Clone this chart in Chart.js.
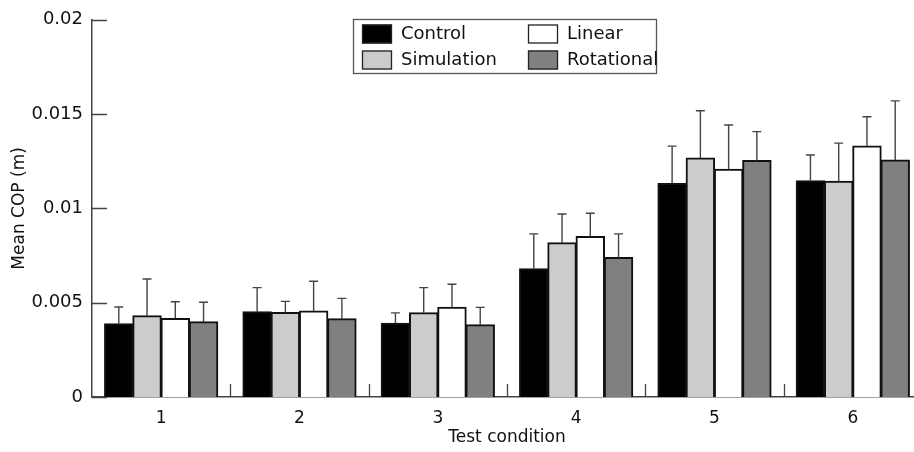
<!DOCTYPE html>
<html>
<head>
<meta charset="utf-8">
<script src="https://cdn.jsdelivr.net/npm/chart.js@4"></script>
<style>
  html, body { margin: 0; padding: 0; background: #fff; overflow: hidden; }
  #wrap { width: 930px; height: 452px; }
</style>
</head>
<body>
<div id="wrap"><canvas id="chart" width="930" height="452"></canvas></div>
<script>
const conditions = ["1", "2", "3", "4", "5", "6"];
const seriesNames = ["Control", "Simulation", "Linear", "Rotational"];
const control = [0.00388, 0.00451, 0.00391, 0.0068, 0.01132, 0.01146];
const simulation = [0.0043, 0.00447, 0.00446, 0.00817, 0.01267, 0.01144];
const linear = [0.00416, 0.00456, 0.00475, 0.00851, 0.01207, 0.0133];
const rotational = [0.00398, 0.00414, 0.00382, 0.00739, 0.01253, 0.01256];
const controlSd = [0.00089, 0.00129, 0.00055, 0.00185, 0.00198, 0.00137];
const simulationSd = [0.00196, 0.0006, 0.00134, 0.00153, 0.00251, 0.00202];
const linearSd = [0.00089, 0.00158, 0.00123, 0.00123, 0.00235, 0.00156];
const rotationalSd = [0.00104, 0.00109, 0.00093, 0.00126, 0.00154, 0.00314];
const yTicks = [0, 0.005, 0.01, 0.015, 0.02];
const yTickLabels = ["0", "0.005", "0.01", "0.015", "0.02"];

const fills = ["#000000", "#cccccc", "#ffffff", "#808080"];
const FONT = "'DejaVu Sans', sans-serif";

// SD bars, upper half only, like the figure
const errorBars = {
  id: "errorBars",
  afterDatasetsDraw(chart) {
    const ctx = chart.ctx;
    const y = chart.scales.y;
    ctx.save();
    ctx.strokeStyle = "#444";
    ctx.lineWidth = 1.4;
    chart.data.datasets.forEach((ds, i) => {
      chart.getDatasetMeta(i).data.forEach((bar, j) => {
        const top = y.getPixelForValue(ds.data[j] + ds.sd[j]);
        ctx.beginPath();
        ctx.moveTo(bar.x, bar.y);
        ctx.lineTo(bar.x, top);
        ctx.moveTo(bar.x - 4.5, top);
        ctx.lineTo(bar.x + 4.5, top);
        ctx.stroke();
      });
    });
    ctx.restore();
  }
};

// tick marks point into the plot
const innerTicks = {
  id: "innerTicks",
  afterDraw(chart) {
    const ctx = chart.ctx;
    const { x, y } = chart.scales;
    const area = chart.chartArea;
    ctx.save();
    ctx.strokeStyle = "#444";
    ctx.lineWidth = 1.3;
    ctx.beginPath();
    yTicks.forEach((v) => {
      const py = Math.round(y.getPixelForValue(v)) + 0.5;
      ctx.moveTo(area.left, py);
      ctx.lineTo(area.left + 15, py);
    });
    for (let i = 1; i < conditions.length; i++) {
      const px = Math.round((x.getPixelForValue(i - 1) + x.getPixelForValue(i)) / 2) + 0.5;
      ctx.moveTo(px, area.bottom);
      ctx.lineTo(px, area.bottom - 13);
    }
    ctx.stroke();
    ctx.restore();
  }
};

const boxLegend = {
  id: "boxLegend",
  afterDraw(chart) {
    const ctx = chart.ctx;
    const order = [0, 2, 1, 3];
    ctx.save();
    ctx.strokeStyle = "#555";
    ctx.lineWidth = 1.3;
    ctx.strokeRect(353.5, 19.5, 303, 54);
    ctx.font = "18px " + FONT;
    ctx.textBaseline = "middle";
    order.forEach((ds, k) => {
      const col = k % 2, row = Math.floor(k / 2);
      const sx = col === 0 ? 362 : 528;
      const sy = row === 0 ? 24.5 : 50.5;
      ctx.fillStyle = fills[ds];
      ctx.fillRect(sx, sy, 30, 19);
      ctx.strokeStyle = "#222";
      ctx.strokeRect(sx + 0.5, sy + 0.5, 29, 18);
      ctx.fillStyle = "#111";
      ctx.fillText(seriesNames[ds], sx + 39, sy + 10);
    });
    ctx.restore();
  }
};

new Chart(document.getElementById("chart"), {
  type: "bar",
  data: {
    labels: conditions,
    datasets: [
      { label: seriesNames[0], data: control, sd: controlSd, backgroundColor: fills[0] },
      { label: seriesNames[1], data: simulation, sd: simulationSd, backgroundColor: fills[1] },
      { label: seriesNames[2], data: linear, sd: linearSd, backgroundColor: fills[2] },
      { label: seriesNames[3], data: rotational, sd: rotationalSd, backgroundColor: fills[3] }
    ].map((d) => Object.assign(d, {
      borderColor: "#111",
      borderWidth: 2,
      inflateAmount: 0.6,
      categoryPercentage: 0.817,
      barPercentage: 1
    }))
  },
  options: {
    responsive: false,
    animation: false,
    layout: { padding: { top: 17, right: 8, left: 0, bottom: 0 } },
    plugins: { legend: { display: false }, tooltip: { enabled: false } },
    scales: {
      x: {
        grid: { display: false, drawTicks: false },
        border: { display: true, color: "#444", width: 1.5 },
        ticks: { color: "#111", font: { family: FONT, size: 17 }, padding: 11 },
        title: { display: true, text: "Test condition", color: "#111", font: { family: FONT, size: 17 }, padding: { top: 4, bottom: 4 } },
        afterFit: (s) => { s.height = 55; }
      },
      y: {
        min: 0,
        max: 0.02,
        grid: { display: false, drawTicks: false },
        border: { display: true, color: "#444", width: 1.5 },
        afterBuildTicks: (s) => { s.ticks = yTicks.map((v) => ({ value: v })); },
        ticks: {
          color: "#111",
          font: { family: FONT, size: 18 },
          padding: 9,
          callback: (v) => yTickLabels[yTicks.indexOf(v)]
        },
        title: { display: true, text: "Mean COP (m)", color: "#111", font: { family: FONT, size: 17 }, padding: { top: 9, bottom: 0 } },
        afterFit: (s) => { s.width = 92; }
      }
    }
  },
  plugins: [errorBars, innerTicks, boxLegend]
});
</script>
</body>
</html>
